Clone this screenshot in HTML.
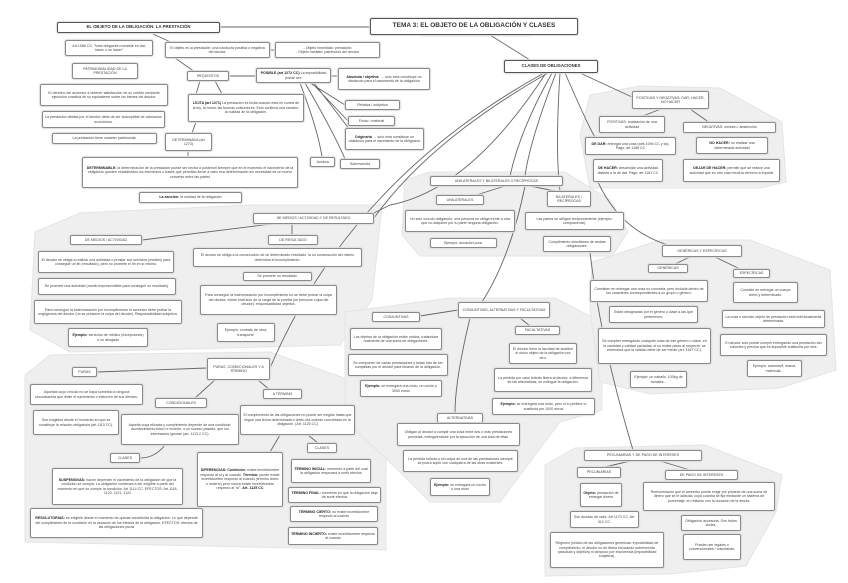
<!DOCTYPE html>
<html><head><meta charset="utf-8"><style>
body{margin:0;width:848px;height:583px;background:#fff;position:relative;overflow:hidden;font-family:"Liberation Sans",sans-serif}
.b{position:absolute;box-sizing:border-box;background:#fff;border:1px solid #8a8a8a;border-radius:2px;box-shadow:0 0 1px 1px #ddd;display:flex;align-items:center;justify-content:center;text-align:center;font-size:3.6px;line-height:4.4px;color:#444;padding:1px 2px;overflow:hidden}
.t{border:1.5px solid #555;font-weight:bold;font-size:5.5px;color:#333}
b{color:#222}
svg{position:absolute;left:0;top:0}
.red{position:absolute;left:420px;top:32px;width:112px;height:4px;background:#e08080;opacity:.6;filter:blur(0.6px)}
</style></head><body>
<svg width="848" height="583">
<g fill="#efefef" stroke="#e4e4e4">
<polygon points="590,95 640,86 720,88 782,122 786,182 760,188 590,188 580,135"/>
<polygon points="405,180 430,172 565,172 610,200 628,232 612,256 545,256 497,256 420,256 402,235"/>
<polygon points="35,232 80,213 250,205 382,205 372,300 340,345 70,352 30,330"/>
<polygon points="25,375 50,355 270,352 350,380 386,430 386,550 25,542"/>
<polygon points="345,312 450,298 555,298 602,322 602,410 560,422 500,502 430,502 400,472 345,420"/>
<polygon points="592,262 660,240 750,240 830,270 836,370 780,388 650,394 600,382 590,310"/>
<polygon points="545,465 575,448 705,445 782,475 776,512 746,566 670,574 545,576"/>
</g>
<g fill="none" stroke="#666" stroke-width="0.9">
<line x1="220" y1="27" x2="370" y2="27"/>
<line x1="490" y1="35" x2="530" y2="60"/>
<line x1="153" y1="34" x2="175" y2="44"/>
<line x1="175" y1="58" x2="195" y2="72"/>
<line x1="229" y1="76" x2="256" y2="76"/>
<line x1="200" y1="81" x2="196" y2="94"/>
<line x1="215" y1="81" x2="222" y2="94"/>
<line x1="196" y1="122" x2="192" y2="133"/>
<line x1="188" y1="151" x2="188" y2="157"/>
<line x1="331" y1="76" x2="338" y2="76"/>
<path d="M310,83 L345,105 M312,83 L348,121 M314,83 L350,130 M300,83 Q318,130 322,157 M305,83 Q335,135 345,159"/>
<line x1="270" y1="50" x2="275" y2="50"/>
<path d="M546,73 Q470,190 390,205 L374,213"/>
<path d="M548,73 Q430,140 374,218"/>
<line x1="320" y1="218" x2="142" y2="240"/>
<path d="M544,73 Q350,180 270,368"/>
<path d="M552,73 Q520,130 510,176"/>
<path d="M556,73 Q530,140 525,176"/>
<path d="M560,73 Q555,150 560,191"/>
<path d="M565,73 Q590,130 595,137"/>
<line x1="580" y1="73" x2="632" y2="97"/>
<path d="M525,186 Q510,260 480,305"/>
<path d="M598,182 Q620,230 668,245"/>
<path d="M590,252 Q600,340 633,450"/>
<line x1="505" y1="186" x2="470" y2="197"/>
<line x1="530" y1="186" x2="560" y2="192"/>
<line x1="661" y1="109" x2="640" y2="117"/>
<line x1="690" y1="109" x2="710" y2="123"/>
<line x1="292" y1="224" x2="292" y2="235"/>
<line x1="207" y1="368" x2="97" y2="372"/>
<line x1="215" y1="380" x2="195" y2="398"/>
<line x1="258" y1="380" x2="270" y2="390"/>
<path d="M165,445 Q155,458 140,458"/>
<line x1="280" y1="435" x2="270" y2="452"/>
<line x1="308" y1="435" x2="318" y2="443"/>
<line x1="458" y1="310" x2="420" y2="316"/>
<line x1="520" y1="318" x2="530" y2="326"/>
<path d="M470,318 Q455,380 455,413"/>
<line x1="690" y1="257" x2="675" y2="264"/>
<line x1="715" y1="257" x2="740" y2="269"/>
<line x1="630" y1="461" x2="605" y2="467"/>
<line x1="660" y1="461" x2="690" y2="470"/>
</g>
</svg>
<div class="red"></div>
<div class="b t" style="left:57px;top:22px;width:163px;height:11px;font-size:4.3px">EL OBJETO DE LA OBLIGACIÓN: LA PRESTACIÓN</div>
<div class="b t" style="left:370px;top:18px;width:208px;height:17px;font-size:6.5px">TEMA 3: EL OBJETO DE LA OBLIGACIÓN Y CLASES</div>
<div class="b t" style="left:504px;top:60px;width:94px;height:13px;font-size:4.3px">CLASES DE OBLIGACIONES</div>
<div class="b" style="left:65px;top:40px;width:88px;height:16px">Art.1088 CC: "toda obligación consiste en dar, hacer o no hacer"</div>
<div class="b" style="left:165px;top:42px;width:105px;height:16px">El objeto es la prestación: una conducta positiva o negativa del deudor.</div>
<div class="b" style="left:275px;top:42px;width:105px;height:16px">- Objeto inmediato: prestación<br>- Objeto mediato: patrimonio del deudor</div>
<div class="b" style="left:72px;top:63px;width:66px;height:16px">PATRIMONIALIDAD DE LA PRESTACIÓN</div>
<div class="b" style="left:40px;top:84px;width:128px;height:22px">El derecho del acreedor a obtener satisfacción de su crédito mediante ejecución coactiva de su equivalente sobre los bienes del deudor.</div>
<div class="b" style="left:42px;top:111px;width:123px;height:17px">La prestación debida por el deudor debe de ser susceptible de valoración económica.</div>
<div class="b" style="left:52px;top:133px;width:105px;height:11px">La prestación tiene carácter patrimonial.</div>
<div class="b" style="left:187px;top:71px;width:42px;height:10px">REQUISITOS</div>
<div class="b" style="left:256px;top:68px;width:75px;height:15px"><span><b>POSIBLE (art 1272 CC)</b> La imposibilidad puede ser:</span></div>
<div class="b" style="left:338px;top:68px;width:92px;height:22px"><span><b>Absoluta / objetiva:</b> → solo esta constituye un obstáculo para el nacimiento de la obligación</span></div>
<div class="b" style="left:188px;top:94px;width:116px;height:28px"><span><b>LÍCITA (art 1271)</b> La prestación es ilícita cuando esta en contra de la ley, la moral, las buenas costumbres. Esto conlleva una sanción: la nulidad de la obligación.</span></div>
<div class="b" style="left:345px;top:100px;width:55px;height:10px">Relativa / subjetiva</div>
<div class="b" style="left:348px;top:116px;width:47px;height:10px">Físico / material</div>
<div class="b" style="left:345px;top:128px;width:79px;height:22px"><span><b>Originaria</b> → solo esta constituye un obstáculo para el nacimiento de la obligación</span></div>
<div class="b" style="left:165px;top:133px;width:47px;height:18px">DETERMINADA (art 1273)</div>
<div class="b" style="left:310px;top:157px;width:25px;height:10px">Jurídica</div>
<div class="b" style="left:340px;top:159px;width:40px;height:10px">Sobrevenida</div>
<div class="b" style="left:82px;top:157px;width:216px;height:31px"><span><b>DETERMINABLE:</b> la determinación de la prestación puede ser hecha a posteriori siempre que en el momento el nacimiento de la obligación queden establecidos los elementos o bases que permitan llevar a cabo esa determinación sin necesidad de un nuevo convenio entre las partes</span></div>
<div class="b" style="left:139px;top:192px;width:103px;height:11px"><span><b>La sanción:</b> la nulidad de la obligación</span></div>

<div class="b" style="left:632px;top:91px;width:77px;height:18px">POSITIVAS Y NEGATIVAS: DAR, HACER, NO HACER</div>
<div class="b" style="left:599px;top:116px;width:66px;height:17px">POSITIVAS: realización de una actividad</div>
<div class="b" style="left:683px;top:122px;width:93px;height:11px">NEGATIVAS: omisión / abstención</div>
<div class="b" style="left:585px;top:137px;width:91px;height:18px"><span><b>DE DAR:</b> entregar una cosa (arts 1094 CC y ss). Pago: art 1158 CC</span></div>
<div class="b" style="left:696px;top:137px;width:72px;height:17px"><span><b>NO HACER:</b> no realizar una determinada actividad</span></div>
<div class="b" style="left:593px;top:159px;width:70px;height:23px"><span><b>DE HACER:</b> desarrollar una actividad distinta a la de dar. Pago: art 1161 CC</span></div>
<div class="b" style="left:683px;top:159px;width:97px;height:23px"><span><b>DEJAR DE HACER:</b> permitir que se realice una actividad que en otro caso tendría derecho a impedir</span></div>

<div class="b" style="left:430px;top:176px;width:133px;height:10px">UNILATERALES Y BILATERALES O RECÍPROCAS</div>
<div class="b" style="left:436px;top:195px;width:48px;height:10px">UNILATERALES</div>
<div class="b" style="left:547px;top:191px;width:44px;height:16px">BILATERALES / RECÍPROCAS</div>
<div class="b" style="left:405px;top:210px;width:110px;height:22px">Un solo vínculo obligatorio, una persona se obliga frente a otra que no adquiere por tu parte ninguna obligación.</div>
<div class="b" style="left:525px;top:212px;width:99px;height:18px">Las partes se obligan recíprocamente (ejemplo: compraventa).</div>
<div class="b" style="left:430px;top:238px;width:67px;height:10px">Ejemplo: donación pura.</div>
<div class="b" style="left:543px;top:236px;width:68px;height:16px">Cumplimiento simultáneo de ambas obligaciones.</div>

<div class="b" style="left:253px;top:213px;width:121px;height:11px">DE MEDIOS / ACTIVIDAD Y DE RESULTADO</div>
<div class="b" style="left:70px;top:235px;width:72px;height:10px">DE MEDIOS / ACTIVIDAD</div>
<div class="b" style="left:268px;top:235px;width:50px;height:10px">DE RESULTADO</div>
<div class="b" style="left:38px;top:251px;width:136px;height:22px">El deudor se obliga a realizar una actividad o prestar sus servicios (medios) para conseguir un fin (resultado), pero no promete el fin en sí mismo.</div>
<div class="b" style="left:38px;top:278px;width:138px;height:17px">Se promete una actividad (medio imprescindible para conseguir un resultado).</div>
<div class="b" style="left:34px;top:300px;width:148px;height:24px">Para conseguir la indemnización por incumplimiento el acreedor debe probar la negligencia del deudor (no se presume la culpa del deudor). Responsabilidad subjetiva.</div>
<div class="b" style="left:68px;top:328px;width:80px;height:19px"><span><b>Ejemplo:</b> servicios de médico (excepciones) o un abogado</span></div>
<div class="b" style="left:193px;top:248px;width:169px;height:19px">El deudor se obliga a la consecución de un determinado resultado, la no consecución del mismo determina el incumplimiento.</div>
<div class="b" style="left:243px;top:272px;width:69px;height:9px">Se promete un resultado.</div>
<div class="b" style="left:200px;top:285px;width:137px;height:30px">Para conseguir la indemnización por incumplimiento no se debe probar la culpa del deudor, existe inversión de la carga de la prueba (se presume culpa del deudor): responsabilidad objetiva.</div>
<div class="b" style="left:217px;top:323px;width:58px;height:19px">Ejemplo: contrato de obra, transporte.</div>

<div class="b" style="left:207px;top:358px;width:63px;height:22px">PURAS, CONDICIONALES Y A TÉRMINO</div>
<div class="b" style="left:72px;top:367px;width:25px;height:10px">PURAS</div>
<div class="b" style="left:30px;top:384px;width:113px;height:21px">Aquellas cuyo vínculo no se haya sometido a ninguna circunstancia que limite el nacimiento o extinción de sus efectos.</div>
<div class="b" style="left:33px;top:410px;width:86px;height:25px">Son exigibles desde el momento en que se constituye la relación obligatoria (art 1113 CC).</div>
<div class="b" style="left:155px;top:398px;width:52px;height:10px">CONDICIONALES</div>
<div class="b" style="left:121px;top:414px;width:118px;height:31px">Aquella cuya eficacia y cumplimiento depende de una condición: acontecimiento futuro e incierto, o un suceso pasado, que los interesados ignoran (art. 1113.2 CC).</div>
<div class="b" style="left:263px;top:389px;width:39px;height:10px">A TÉRMINO</div>
<div class="b" style="left:240px;top:405px;width:115px;height:30px">El cumplimiento de las obligaciones no puede ser exigido hasta que llegue una fecha determinada o cierto día cuando concretado en la obligación. (Art. 1125 CC)</div>
<div class="b" style="left:110px;top:453px;width:30px;height:10px">CLASES</div>
<div class="b" style="left:52px;top:468px;width:131px;height:37px"><span><b>SUSPENSIVAS:</b> hacen depender el nacimiento de la obligación de que la condición se cumpla. La obligación comienza a ser exigible a partir del momento en que se cumple la condición. Art 1114 CC. EFECTOS: Art 1118, 1120, 1121, 1122</span></div>
<div class="b" style="left:30px;top:508px;width:173px;height:30px"><span><b>RESOLUTORIAS:</b> es exigible desde el momento de quedar constituida la obligación. Lo que depende del cumplimiento de la condición es la cesación de los efectos de la obligación. EFECTOS: efectos de las obligaciones puras</span></div>
<div class="b" style="left:197px;top:452px;width:86px;height:55px"><span><b>DIFERENCIAS: Condición:</b> existe incertidumbre respecto al si y al cuando. <b>Término:</b> puede existir incertidumbre respecto al cuando (término cierto o incierto) pero nunca existe incertidumbre respecto al "si". <b>Art. 1125 CC</b></span></div>
<div class="b" style="left:307px;top:443px;width:30px;height:10px">CLASES</div>
<div class="b" style="left:291px;top:459px;width:80px;height:24px"><span><b>TÉRMINO INICIAL:</b> momento a partir del cual la obligación empezará a surtir efectos</span></div>
<div class="b" style="left:288px;top:487px;width:93px;height:16px"><span><b>TÉRMINO FINAL:</b> momento en que la obligación deja de surtir efectos</span></div>
<div class="b" style="left:290px;top:506px;width:88px;height:16px"><span><b>TÉRMINO CIERTO:</b> no existe incertidumbre respecto al cuando</span></div>
<div class="b" style="left:288px;top:527px;width:90px;height:18px"><span><b>TÉRMINO INCIERTO:</b> existe incertidumbre respecto al cuando</span></div>

<div class="b" style="left:458px;top:302px;width:92px;height:16px">CONJUNTIVAS, ALTERNATIVAS Y FACULTATIVAS</div>
<div class="b" style="left:372px;top:312px;width:48px;height:10px">CONJUNTIVAS</div>
<div class="b" style="left:515px;top:326px;width:45px;height:9px">FACULTATIVAS</div>
<div class="b" style="left:350px;top:328px;width:92px;height:22px">Los objetos de la obligación están unidos, tratándose realmente de una suma de obligaciones.</div>
<div class="b" style="left:348px;top:354px;width:100px;height:22px">Se componen de varias prestaciones y todas han de ser cumplidas por el deudor para librarse de la obligación.</div>
<div class="b" style="left:360px;top:380px;width:82px;height:17px"><span><b>Ejemplo:</b> se entregará una moto, un coche y 3000 euros</span></div>
<div class="b" style="left:509px;top:343px;width:68px;height:21px">El deudor tiene la facultad de sustituir el único objeto de la obligación por otro.</div>
<div class="b" style="left:494px;top:368px;width:98px;height:24px">La pérdida por caso fortuito libera al deudor, a diferencia de las alternativas, se extingue la obligación.</div>
<div class="b" style="left:492px;top:398px;width:103px;height:17px"><span><b>Ejemplo:</b> se entregará una moto, pero si lo prefiere lo sustituirá por 1000 euros</span></div>
<div class="b" style="left:437px;top:413px;width:46px;height:10px">ALTERNATIVAS</div>
<div class="b" style="left:397px;top:423px;width:123px;height:23px">Obligan al deudor a cumplir una cosa entre dos o más prestaciones previstas, extinguiéndose por la ejecución de una sola de ellas.</div>
<div class="b" style="left:403px;top:450px;width:115px;height:22px">La pérdida fortuita o sin culpa de una de las prestaciones siempre se podrá suplir con cualquiera de las otras existentes.</div>
<div class="b" style="left:430px;top:478px;width:60px;height:18px"><span><b>Ejemplo:</b> se entregará un coche o una moto</span></div>

<div class="b" style="left:662px;top:245px;width:80px;height:12px">GENÉRICAS Y ESPECÍFICAS</div>
<div class="b" style="left:648px;top:264px;width:40px;height:9px">GENÉRICAS</div>
<div class="b" style="left:733px;top:269px;width:37px;height:9px">ESPECÍFICAS</div>
<div class="b" style="left:590px;top:280px;width:118px;height:22px">Consisten en entregar una cosa no concreta, pero incluida dentro de los caracteres correspondientes a un grupo o género.</div>
<div class="b" style="left:733px;top:282px;width:65px;height:21px">Consiste en entregar un cuerpo cierto y determinado.</div>
<div class="b" style="left:609px;top:306px;width:89px;height:17px">Están designadas por el género o clase a las que pertenecen.</div>
<div class="b" style="left:722px;top:310px;width:103px;height:18px">La cosa o servicio objeto de prestación está individualmente determinada.</div>
<div class="b" style="left:598px;top:328px;width:113px;height:36px">Se cumplen entregando cualquier cosa de ese género o clase, en la cantidad y calidad pactadas; si no existe pacto al respecto, se entenderá que la calidad debe de ser medio (art. 1167 CC).</div>
<div class="b" style="left:720px;top:334px;width:107px;height:22px">El deudor solo puede cumplir entregando una prestación tan concreta y precisa que es imposible sustituirla por otra.</div>
<div class="b" style="left:747px;top:360px;width:55px;height:17px">Ejemplo: automóvil, marca, matrícula...</div>
<div class="b" style="left:630px;top:371px;width:57px;height:17px">Ejemplo: un caballo, 100kg de tomates...</div>

<div class="b" style="left:584px;top:450px;width:118px;height:11px">PECUNIARIAS Y DE PAGO DE INTERESES</div>
<div class="b" style="left:577px;top:467px;width:44px;height:11px">PECUNIARIAS</div>
<div class="b" style="left:665px;top:470px;width:73px;height:10px">DE PAGO DE INTERESES</div>
<div class="b" style="left:580px;top:483px;width:42px;height:24px"><span><b>Objeto:</b> prestación de entregar dinero</span></div>
<div class="b" style="left:643px;top:482px;width:132px;height:29px">Remuneración que el acreedor puede exigir por privarse de una suma de dinero que se le adeuda, cuya cuantía se fija mediante un sistema de porcentaje, en relación con la duración de la deuda.</div>
<div class="b" style="left:570px;top:511px;width:69px;height:17px">Son deudas de valor. Art 1170 CC, Art. 312 CC.</div>
<div class="b" style="left:681px;top:515px;width:60px;height:16px">Obligación accesoria. Son frutos civiles.</div>
<div class="b" style="left:550px;top:532px;width:114px;height:36px">Régimen jurídico de las obligaciones genéricas: imposibilidad de cumplimiento, el deudor no se libera invocando sobrevenida (absoluta y objetiva) ni tampoco por insolvencia (imposibilidad subjetiva).</div>
<div class="b" style="left:683px;top:534px;width:58px;height:26px">Pueden ser legales o convencionales / voluntarias.</div>
</body></html>
